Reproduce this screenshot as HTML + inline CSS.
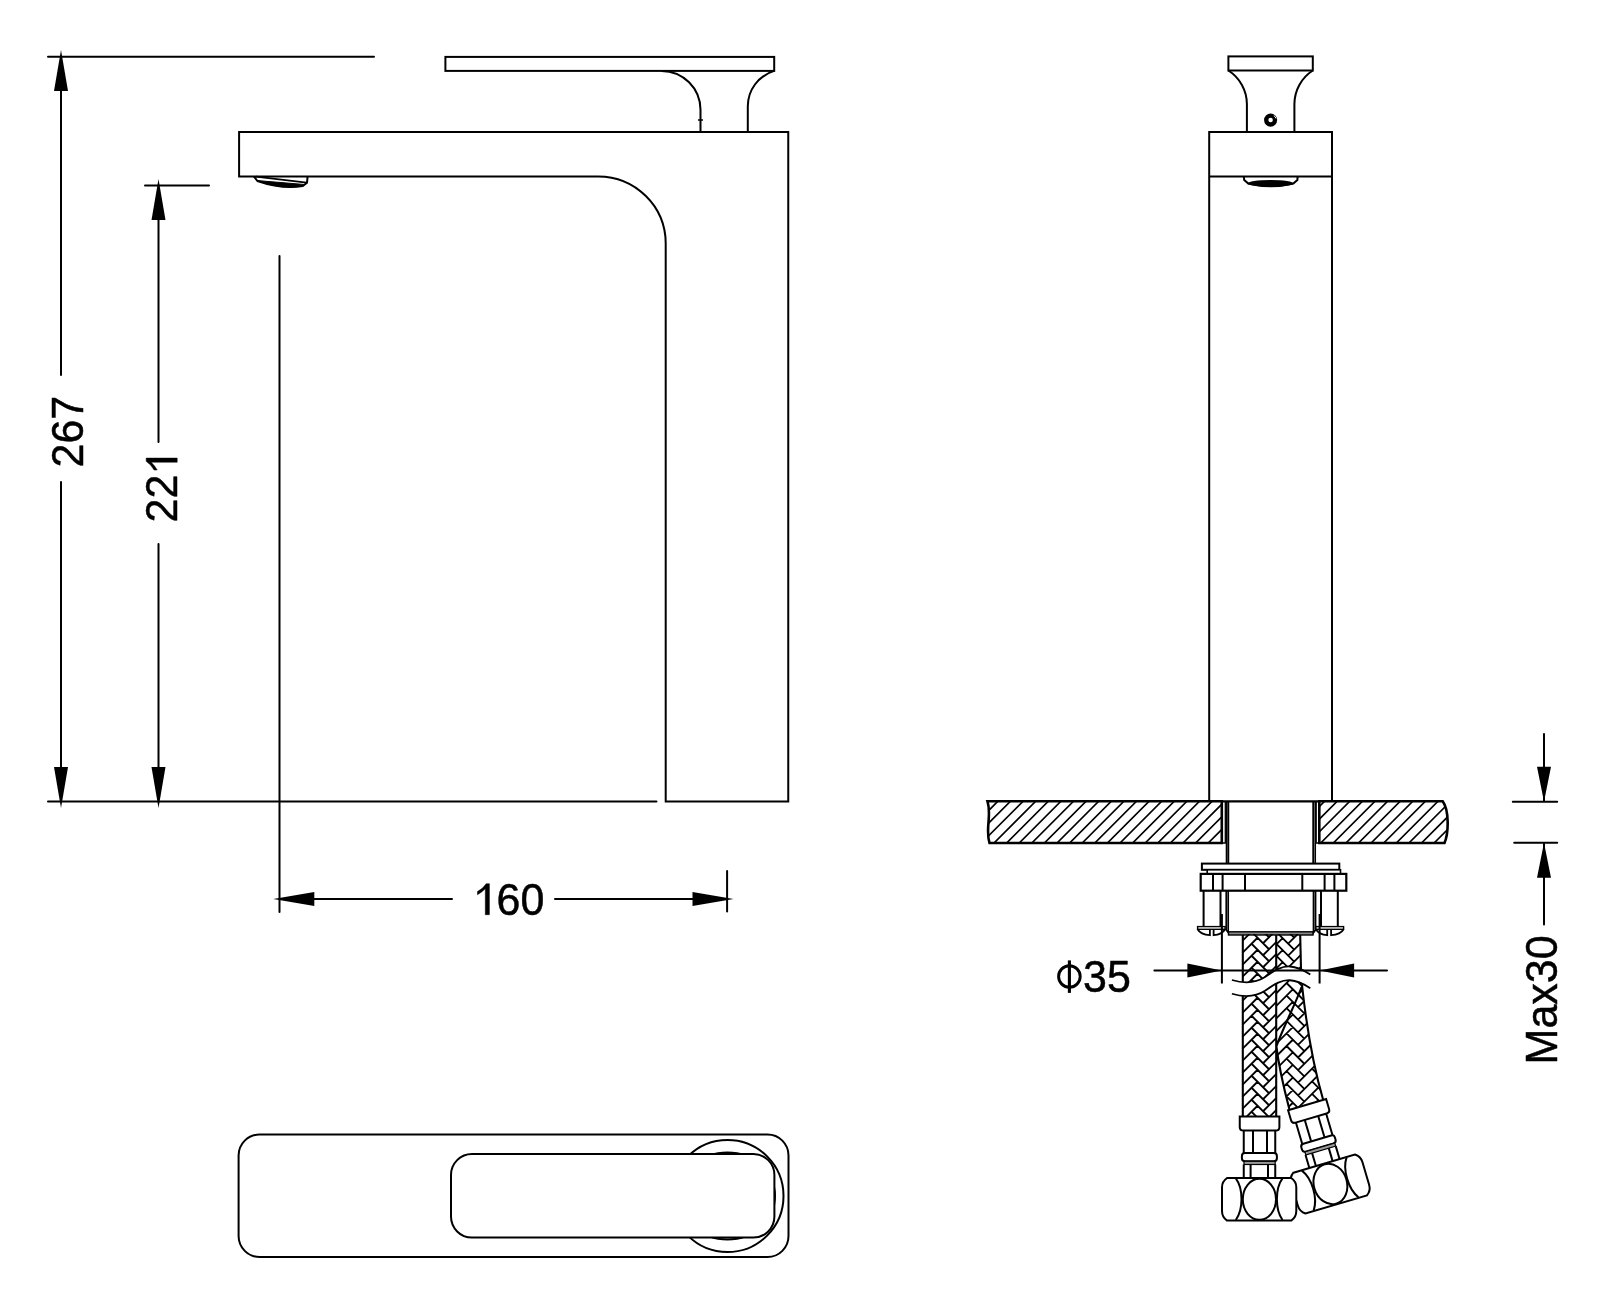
<!DOCTYPE html>
<html><head><meta charset="utf-8"><title>Faucet drawing</title><style>
html,body{margin:0;padding:0;background:#fff;overflow:hidden;}
svg{display:block;filter:grayscale(1);}
</style></head><body>
<svg width="1600" height="1299" viewBox="0 0 1600 1299">
<rect width="1600" height="1299" fill="#fff"/>
<path d="M48,56.8 H374 M145,185.6 H209 M48,801.5 H656.5 M61,80 V375 M61,482 V790 M158.5,210 V442 M158.5,544 V790 M279.5,256 V912 M727.1,871 V911.6 M300,898.9 H452 M555,898.9 H700" fill="none" stroke="#000" stroke-width="2" stroke-linecap="round"/>
<path d="M61.00,50.00 L68.00,91.00 L54.00,91.00 Z" fill="#000"/>
<path d="M61.00,808.00 L54.00,767.00 L68.00,767.00 Z" fill="#000"/>
<path d="M158.50,179.00 L165.50,220.00 L151.50,220.00 Z" fill="#000"/>
<path d="M158.50,808.00 L151.50,767.00 L165.50,767.00 Z" fill="#000"/>
<path d="M273.30,898.90 L314.30,891.90 L314.30,905.90 Z" fill="#000"/>
<path d="M733.50,898.90 L692.50,905.90 L692.50,891.90 Z" fill="#000"/>
<g fill="none" stroke="#000" stroke-width="2"><path d="M239.1,132 H788.25 V801.5 H665.7 V243.5 A67.6,67.1 0 0 0 598,176.4 H239.1 Z"/><rect x="445.4" y="56.9" width="328.8" height="14"/><path d="M661.6,70.9 A39,39 0 0 1 700.5,109.8 V132"/><path d="M774.2,70.9 A37,37 0 0 0 747.8,106.4 V132"/><path d="M698,120 H703" stroke-width="1.5"/><path d="M253.9,176.4 L257.4,181 Q282,189.5 302.7,186.1 L307,182.8 L307.6,176.4"/><path d="M256,176.6 L306.6,182.6" stroke-width="1.9"/><path d="M257.4,180.6 L303.5,184.4 L302.7,186.1 Q282,189.5 257.4,181 Z" fill="#000" stroke-width="1"/></g>
<text font-family="Liberation Sans, sans-serif" fill="#000" stroke="#000" stroke-width="0.5" stroke-linejoin="round" font-size="44" transform="translate(83,467.5) rotate(-90) scale(0.977,1)">267</text>
<text font-family="Liberation Sans, sans-serif" fill="#000" stroke="#000" stroke-width="0.5" stroke-linejoin="round" font-size="44" transform="translate(177.2,522.5) rotate(-90) scale(0.977,1)">22</text>
<path d="M0,-31 V0 H-4.1 V-26 Q-7.5,-22.5 -11.9,-20 V-23.1 Q-6.5,-26 -3.2,-31 Z" transform="translate(177.2,458.1) rotate(-90)" fill="#000" stroke="#000" stroke-width="0.5" stroke-linejoin="round"/>
<text font-family="Liberation Sans, sans-serif" fill="#000" stroke="#000" stroke-width="0.5" stroke-linejoin="round" font-size="44" transform="translate(496.6,914.6) scale(0.977,1)">60</text>
<path d="M0,-31 V0 H-4.1 V-26 Q-7.5,-22.5 -11.9,-20 V-23.1 Q-6.5,-26 -3.2,-31 Z" transform="translate(489.4,914.7)" fill="#000" stroke="#000" stroke-width="0.5" stroke-linejoin="round"/>
<g fill="none" stroke="#000" stroke-width="2"><rect x="238.6" y="1134.5" width="549.9" height="122.5" rx="21" ry="21"/><circle cx="727.5" cy="1196" r="56"/><ellipse cx="727.5" cy="1196" rx="47.5" ry="43.5"/><rect x="451" y="1154" width="323.4" height="83.6" rx="21" ry="21" fill="#fff"/></g>
<g fill="none" stroke="#000" stroke-width="2"><rect x="1228.4" y="56.4" width="84.4" height="14.1"/><path d="M1228.4,70.5 A40,40 0 0 1 1246.9,104 V132 M1312.8,70.5 A40,40 0 0 0 1294.4,104 V132"/><circle cx="1270.6" cy="120.1" r="4.4" stroke-width="4.3"/><path d="M1273.8,115.6 A5,5 0 0 1 1276,118.5" stroke="#fff" stroke-width="1"/><path d="M1209.2,801.3 V132 H1332 V801.3 M1209.2,176.6 H1332"/><path d="M1243.8,176.6 L1244.2,180 L1248.3,183.6 Q1271,189 1293.3,183.6 L1297.4,180 L1297.6,176.6"/><ellipse cx="1270.6" cy="183.4" rx="23.1" ry="3.3" fill="#000" stroke="none"/></g>
<defs><clipPath id="cl1"><path d="M989.5,843 C985,829 992,815 987.5,801.3 H1221.8 V843 Z"/></clipPath><clipPath id="cl2"><path d="M1319.3,801.3 H1442.7 C1449,810 1449,832 1444.5,843 H1319.3 Z"/></clipPath></defs>
<path clip-path="url(#cl1)" d="M918.40,843.00 L960.40,801.00 M931.00,843.00 L973.00,801.00 M943.60,843.00 L985.60,801.00 M956.20,843.00 L998.20,801.00 M968.80,843.00 L1010.80,801.00 M981.40,843.00 L1023.40,801.00 M994.00,843.00 L1036.00,801.00 M1006.60,843.00 L1048.60,801.00 M1019.20,843.00 L1061.20,801.00 M1031.80,843.00 L1073.80,801.00 M1044.40,843.00 L1086.40,801.00 M1057.00,843.00 L1099.00,801.00 M1069.60,843.00 L1111.60,801.00 M1082.20,843.00 L1124.20,801.00 M1094.80,843.00 L1136.80,801.00 M1107.40,843.00 L1149.40,801.00 M1120.00,843.00 L1162.00,801.00 M1132.60,843.00 L1174.60,801.00 M1145.20,843.00 L1187.20,801.00 M1157.80,843.00 L1199.80,801.00 M1170.40,843.00 L1212.40,801.00 M1183.00,843.00 L1225.00,801.00 M1195.60,843.00 L1237.60,801.00 M1208.20,843.00 L1250.20,801.00 M1220.80,843.00 L1262.80,801.00 M1233.40,843.00 L1275.40,801.00 M1246.00,843.00 L1288.00,801.00" stroke="#000" stroke-width="1.7" fill="none"/>
<path clip-path="url(#cl2)" d="M1257.70,843.00 L1299.70,801.00 M1270.30,843.00 L1312.30,801.00 M1282.90,843.00 L1324.90,801.00 M1295.50,843.00 L1337.50,801.00 M1308.10,843.00 L1350.10,801.00 M1320.70,843.00 L1362.70,801.00 M1333.30,843.00 L1375.30,801.00 M1345.90,843.00 L1387.90,801.00 M1358.50,843.00 L1400.50,801.00 M1371.10,843.00 L1413.10,801.00 M1383.70,843.00 L1425.70,801.00 M1396.30,843.00 L1438.30,801.00 M1408.90,843.00 L1450.90,801.00 M1421.50,843.00 L1463.50,801.00 M1434.10,843.00 L1476.10,801.00 M1446.70,843.00 L1488.70,801.00 M1459.30,843.00 L1501.30,801.00 M1471.90,843.00 L1513.90,801.00" stroke="#000" stroke-width="1.7" fill="none"/>
<path d="M989.5,843 C985,829 992,815 987.5,801.3 H1221.8 V843 Z M1319.3,801.3 H1442.7 C1449,810 1449,832 1444.5,843 H1319.3 Z" fill="none" stroke="#000" stroke-width="2.6"/>
<path d="M1221.8,801.3 H1319.3" stroke="#000" stroke-width="2.2"/>
<path d="M1221.8,843 H1225.3 V801.3 M1319.3,843 H1316.2 V801.3" stroke="#000" stroke-width="1.3" fill="none"/>
<path d="M1226.7,801.3 V863.7 M1313.3,801.3 V863.7 M1226.4,890.7 V930 L1230,934.5 M1315.4,890.7 V930 L1312,934.5" stroke="#000" stroke-width="2" fill="none"/>
<path d="M1228.5,801.3 V863.7 M1315.3,801.3 V863.7 M1228.3,890.7 V932.5 M1313.4,890.7 V932.5" stroke="#000" stroke-width="1.5" fill="none"/>
<rect x="1228.5" y="931.8" width="84.5" height="3.2" fill="#888" stroke="#000" stroke-width="1.4"/>
<rect x="1201.9" y="863.6" width="137.4" height="6.2" fill="#fff" stroke="#000" stroke-width="2"/>
<rect x="1207.2" y="869.8" width="133.3" height="4.1" fill="#fff" stroke="#000" stroke-width="1.6"/>
<rect x="1200.7" y="873.9" width="145.6" height="16.8" fill="#fff" stroke="#000" stroke-width="2.2"/>
<path d="M1213,873.9 V890.7 M1222.6,873.9 V890.7 M1245,873.9 V890.7 M1302.3,873.9 V890.7 M1324.6,873.9 V890.7 M1334.4,873.9 V890.7" stroke="#000" stroke-width="2"/>
<path d="M1203.6,890.7 V926.6 M1220.5,890.7 V926.6" stroke="#000" stroke-width="2" fill="none"/><rect x="1197.6" y="926.6" width="27.50" height="2.7" fill="#fff" stroke="#000" stroke-width="1.4"/><path d="M1197.6,929.2 Q1200.6,934.5 1209.9,935.2 V929.5 M1213.6,929.5 V935.2 Q1222.1,934.5 1225.1,929.2" stroke="#000" stroke-width="1.8" fill="none"/>
<path d="M1321,890.7 V926.6 M1337.8,890.7 V926.6" stroke="#000" stroke-width="2" fill="none"/><rect x="1315.9" y="926.6" width="27.70" height="2.7" fill="#fff" stroke="#000" stroke-width="1.4"/><path d="M1315.9,929.2 Q1318.9,934.5 1327.2,935.2 V929.5 M1331.1,929.5 V935.2 Q1340.6,934.5 1343.6,929.2" stroke="#000" stroke-width="1.8" fill="none"/>
<path d="M1221.9,914 V983.5 M1319.6,914 V983.5" stroke="#000" stroke-width="2"/>
<defs><clipPath id="h1"><path d="M1242.8,934 H1276.2 V1117 H1242.8 Z"/></clipPath><clipPath id="h2"><path d="M1276.2,934 H1300.2 L1301.2,980 H1276.2 Z"/></clipPath><clipPath id="h3"><path d="M1276.2,980 H1302 C1306,1022 1313,1065 1323.2,1100 L1289.3,1109 C1283,1085 1278,1060 1276.2,1045 Z"/></clipPath></defs>
<g clip-path="url(#h1)"><path transform="translate(1242.8,0)" d="M-2,894.50 L14.75,877.75 M8.75,883.75 L25.75,900.75 M20.25,895.25 L40,875.50 M34.25,881.25 L51.25,898.25 M-2,906.50 L14.75,889.75 M8.75,895.75 L25.75,912.75 M20.25,907.25 L40,887.50 M34.25,893.25 L51.25,910.25 M-2,918.50 L14.75,901.75 M8.75,907.75 L25.75,924.75 M20.25,919.25 L40,899.50 M34.25,905.25 L51.25,922.25 M-2,930.50 L14.75,913.75 M8.75,919.75 L25.75,936.75 M20.25,931.25 L40,911.50 M34.25,917.25 L51.25,934.25 M-2,942.50 L14.75,925.75 M8.75,931.75 L25.75,948.75 M20.25,943.25 L40,923.50 M34.25,929.25 L51.25,946.25 M-2,954.50 L14.75,937.75 M8.75,943.75 L25.75,960.75 M20.25,955.25 L40,935.50 M34.25,941.25 L51.25,958.25 M-2,966.50 L14.75,949.75 M8.75,955.75 L25.75,972.75 M20.25,967.25 L40,947.50 M34.25,953.25 L51.25,970.25 M-2,978.50 L14.75,961.75 M8.75,967.75 L25.75,984.75 M20.25,979.25 L40,959.50 M34.25,965.25 L51.25,982.25 M-2,990.50 L14.75,973.75 M8.75,979.75 L25.75,996.75 M20.25,991.25 L40,971.50 M34.25,977.25 L51.25,994.25 M-2,1002.50 L14.75,985.75 M8.75,991.75 L25.75,1008.75 M20.25,1003.25 L40,983.50 M34.25,989.25 L51.25,1006.25 M-2,1014.50 L14.75,997.75 M8.75,1003.75 L25.75,1020.75 M20.25,1015.25 L40,995.50 M34.25,1001.25 L51.25,1018.25 M-2,1026.50 L14.75,1009.75 M8.75,1015.75 L25.75,1032.75 M20.25,1027.25 L40,1007.50 M34.25,1013.25 L51.25,1030.25 M-2,1038.50 L14.75,1021.75 M8.75,1027.75 L25.75,1044.75 M20.25,1039.25 L40,1019.50 M34.25,1025.25 L51.25,1042.25 M-2,1050.50 L14.75,1033.75 M8.75,1039.75 L25.75,1056.75 M20.25,1051.25 L40,1031.50 M34.25,1037.25 L51.25,1054.25 M-2,1062.50 L14.75,1045.75 M8.75,1051.75 L25.75,1068.75 M20.25,1063.25 L40,1043.50 M34.25,1049.25 L51.25,1066.25 M-2,1074.50 L14.75,1057.75 M8.75,1063.75 L25.75,1080.75 M20.25,1075.25 L40,1055.50 M34.25,1061.25 L51.25,1078.25 M-2,1086.50 L14.75,1069.75 M8.75,1075.75 L25.75,1092.75 M20.25,1087.25 L40,1067.50 M34.25,1073.25 L51.25,1090.25 M-2,1098.50 L14.75,1081.75 M8.75,1087.75 L25.75,1104.75 M20.25,1099.25 L40,1079.50 M34.25,1085.25 L51.25,1102.25 M-2,1110.50 L14.75,1093.75 M8.75,1099.75 L25.75,1116.75 M20.25,1111.25 L40,1091.50 M34.25,1097.25 L51.25,1114.25 M-2,1122.50 L14.75,1105.75 M8.75,1111.75 L25.75,1128.75 M20.25,1123.25 L40,1103.50 M34.25,1109.25 L51.25,1126.25 M-2,1134.50 L14.75,1117.75 M8.75,1123.75 L25.75,1140.75 M20.25,1135.25 L40,1115.50 M34.25,1121.25 L51.25,1138.25 M-2,1146.50 L14.75,1129.75 M8.75,1135.75 L25.75,1152.75 M20.25,1147.25 L40,1127.50 M34.25,1133.25 L51.25,1150.25 M-2,1158.50 L14.75,1141.75 M8.75,1147.75 L25.75,1164.75 M20.25,1159.25 L40,1139.50 M34.25,1145.25 L51.25,1162.25 M-2,1170.50 L14.75,1153.75 M8.75,1159.75 L25.75,1176.75 M20.25,1171.25 L40,1151.50 M34.25,1157.25 L51.25,1174.25 M-2,1182.50 L14.75,1165.75 M8.75,1171.75 L25.75,1188.75 M20.25,1183.25 L40,1163.50 M34.25,1169.25 L51.25,1186.25" stroke="#000" stroke-width="1.8" fill="none"/></g>
<g clip-path="url(#h2)"><path transform="translate(1267.9,0)" d="M-2,894.95 L14.75,878.20 M8.75,884.20 L25.75,901.20 M20.25,895.70 L40,875.95 M34.25,881.70 L51.25,898.70 M-2,906.95 L14.75,890.20 M8.75,896.20 L25.75,913.20 M20.25,907.70 L40,887.95 M34.25,893.70 L51.25,910.70 M-2,918.95 L14.75,902.20 M8.75,908.20 L25.75,925.20 M20.25,919.70 L40,899.95 M34.25,905.70 L51.25,922.70 M-2,930.95 L14.75,914.20 M8.75,920.20 L25.75,937.20 M20.25,931.70 L40,911.95 M34.25,917.70 L51.25,934.70 M-2,942.95 L14.75,926.20 M8.75,932.20 L25.75,949.20 M20.25,943.70 L40,923.95 M34.25,929.70 L51.25,946.70 M-2,954.95 L14.75,938.20 M8.75,944.20 L25.75,961.20 M20.25,955.70 L40,935.95 M34.25,941.70 L51.25,958.70 M-2,966.95 L14.75,950.20 M8.75,956.20 L25.75,973.20 M20.25,967.70 L40,947.95 M34.25,953.70 L51.25,970.70 M-2,978.95 L14.75,962.20 M8.75,968.20 L25.75,985.20 M20.25,979.70 L40,959.95 M34.25,965.70 L51.25,982.70 M-2,990.95 L14.75,974.20 M8.75,980.20 L25.75,997.20 M20.25,991.70 L40,971.95 M34.25,977.70 L51.25,994.70 M-2,1002.95 L14.75,986.20 M8.75,992.20 L25.75,1009.20 M20.25,1003.70 L40,983.95 M34.25,989.70 L51.25,1006.70 M-2,1014.95 L14.75,998.20 M8.75,1004.20 L25.75,1021.20 M20.25,1015.70 L40,995.95 M34.25,1001.70 L51.25,1018.70 M-2,1026.95 L14.75,1010.20 M8.75,1016.20 L25.75,1033.20 M20.25,1027.70 L40,1007.95 M34.25,1013.70 L51.25,1030.70 M-2,1038.95 L14.75,1022.20 M8.75,1028.20 L25.75,1045.20 M20.25,1039.70 L40,1019.95 M34.25,1025.70 L51.25,1042.70" stroke="#000" stroke-width="1.8" fill="none"/></g>
<g clip-path="url(#h3)"><path transform="translate(1277.8,0)" d="M-2,930.75 L14.75,914.00 M8.75,920.00 L26.75,938.00 M20.25,931.50 L40,911.75 M34.25,917.50 L52.25,935.50 M-2,943.35 L14.75,926.60 M8.75,932.60 L26.75,950.60 M20.25,944.10 L40,924.35 M34.25,930.10 L52.25,948.10 M-2,955.95 L14.75,939.20 M8.75,945.20 L26.75,963.20 M20.25,956.70 L40,936.95 M34.25,942.70 L52.25,960.70 M-2,968.55 L14.75,951.80 M8.75,957.80 L26.75,975.80 M20.25,969.30 L40,949.55 M34.25,955.30 L52.25,973.30 M-2,981.15 L14.75,964.40 M8.75,970.40 L26.75,988.40 M20.25,981.90 L40,962.15 M34.25,967.90 L52.25,985.90 M-2,993.75 L14.75,977.00 M8.75,983.00 L26.75,1001.00 M20.25,994.50 L40,974.75 M34.25,980.50 L52.25,998.50 M-2,1006.35 L14.75,989.60 M8.75,995.60 L26.75,1013.60 M20.25,1007.10 L40,987.35 M34.25,993.10 L52.25,1011.10 M-2,1018.95 L14.75,1002.20 M8.75,1008.20 L26.75,1026.20 M20.25,1019.70 L40,999.95 M34.25,1005.70 L52.25,1023.70 M-2,1031.55 L14.75,1014.80 M8.75,1020.80 L26.75,1038.80 M20.25,1032.30 L40,1012.55 M34.25,1018.30 L52.25,1036.30 M-2,1044.15 L14.75,1027.40 M8.75,1033.40 L26.75,1051.40 M20.25,1044.90 L40,1025.15 M34.25,1030.90 L52.25,1048.90 M-2,1056.75 L14.75,1040.00 M8.75,1046.00 L26.75,1064.00 M20.25,1057.50 L40,1037.75 M34.25,1043.50 L52.25,1061.50 M-2,1069.35 L14.75,1052.60 M8.75,1058.60 L26.75,1076.60 M20.25,1070.10 L40,1050.35 M34.25,1056.10 L52.25,1074.10 M-2,1081.95 L14.75,1065.20 M8.75,1071.20 L26.75,1089.20 M20.25,1082.70 L40,1062.95 M34.25,1068.70 L52.25,1086.70 M-2,1094.55 L14.75,1077.80 M8.75,1083.80 L26.75,1101.80 M20.25,1095.30 L40,1075.55 M34.25,1081.30 L52.25,1099.30 M-2,1107.15 L14.75,1090.40 M8.75,1096.40 L26.75,1114.40 M20.25,1107.90 L40,1088.15 M34.25,1093.90 L52.25,1111.90 M-2,1119.75 L14.75,1103.00 M8.75,1109.00 L26.75,1127.00 M20.25,1120.50 L40,1100.75 M34.25,1106.50 L52.25,1124.50 M-2,1132.35 L14.75,1115.60 M8.75,1121.60 L26.75,1139.60 M20.25,1133.10 L40,1113.35 M34.25,1119.10 L52.25,1137.10 M-2,1144.95 L14.75,1128.20 M8.75,1134.20 L26.75,1152.20 M20.25,1145.70 L40,1125.95 M34.25,1131.70 L52.25,1149.70 M-2,1157.55 L14.75,1140.80 M8.75,1146.80 L26.75,1164.80 M20.25,1158.30 L40,1138.55 M34.25,1144.30 L52.25,1162.30 M-2,1170.15 L14.75,1153.40 M8.75,1159.40 L26.75,1177.40 M20.25,1170.90 L40,1151.15 M34.25,1156.90 L52.25,1174.90 M-2,1182.75 L14.75,1166.00 M8.75,1172.00 L26.75,1190.00 M20.25,1183.50 L40,1163.75 M34.25,1169.50 L52.25,1187.50" stroke="#000" stroke-width="1.8" fill="none"/></g>
<path d="M1242.8,935 V1117 M1276.2,935 V1117 M1300.2,935 L1301.2,978 M1302,985 C1306,1022 1313,1065 1323.2,1100 M1276.2,1045 C1278,1060 1283,1085 1289.3,1109 M1301.6,987 C1295,1005 1282,1030 1276.2,1047" stroke="#000" stroke-width="2.1" fill="none"/>
<path d="M1231.9,980 C1242,983 1255,983.5 1265,977 C1275,970 1282,966 1290,966.5 C1298,967 1305,971 1310.3,974.4 L1310.3,988.15 C1305,984.75 1298,980.75 1290,980.25 C1282,979.75 1275,983.75 1265,990.75 C1255,997.25 1242,996.75 1231.9,993.75 Z" fill="#fff" stroke="none"/>
<path d="M1231.9,980 C1242,983 1255,983.5 1265,977 C1275,970 1282,966 1290,966.5 C1298,967 1305,971 1310.3,974.4 M1231.9,993.75 C1242,996.75 1255,997.25 1265,990.75 C1275,983.75 1282,979.75 1290,980.25 C1298,980.75 1305,984.75 1310.3,988.15" stroke="#000" stroke-width="1.8" fill="none"/>
<path d="M1154.4,970.5 H1387" stroke="#000" stroke-width="2" stroke-linecap="round"/>
<path d="M1221.90,970.50 L1187.40,977.40 L1187.40,963.60 Z" fill="#000"/>
<path d="M1319.60,970.50 L1354.10,963.60 L1354.10,977.40 Z" fill="#000"/>
<g transform="translate(1336.75,1204.3) rotate(-16.5) translate(-1259.7,-1220.6)"><path d="M1239.75,1116.6 H1279.4 V1127 Q1279.4,1130.6 1275.8,1130.6 H1243.4 Q1239.75,1130.6 1239.75,1127 Z" fill="#fff" stroke="#000" stroke-width="2"/><path d="M1243.75,1130.6 V1153 M1275.25,1130.6 V1153 M1253,1130.6 V1153 M1267,1130.6 V1153" stroke="#000" stroke-width="2" fill="none"/><rect x="1241.9" y="1153" width="35" height="8.25" rx="3" fill="#fff" stroke="#000" stroke-width="2"/><rect x="1244" y="1161.3" width="31.2" height="3.2" fill="#999" stroke="#000" stroke-width="1.2"/><path d="M1243.75,1164.5 V1178 M1275.25,1164.5 V1178 M1250.6,1164.5 V1178 M1268,1164.5 V1178" stroke="#000" stroke-width="2" fill="none"/><path d="M1227.1,1178 H1291.2 C1294.2,1180 1296.3,1184 1296.3,1187.4 V1211 C1296.3,1215 1294.2,1218.6 1291.2,1220.6 H1227.1 C1224.1,1218.6 1222,1215 1222,1211 V1187.4 C1222,1184 1224.1,1180 1227.1,1178 Z" fill="#fff" stroke="#000" stroke-width="2"/><ellipse cx="1259.4" cy="1199.3" rx="16.6" ry="20.5" fill="none" stroke="#000" stroke-width="2"/><path d="M1235.8,1178.4 C1240,1184 1241.5,1192 1241.5,1199.2 C1241.5,1207 1240,1214 1235.8,1220 M1282.5,1178.4 C1278.3,1184 1276.9,1192 1276.9,1199.2 C1276.9,1207 1278.3,1214 1282.5,1220" stroke="#000" stroke-width="2" fill="none"/></g>
<g><path d="M1239.75,1116.6 H1279.4 V1127 Q1279.4,1130.6 1275.8,1130.6 H1243.4 Q1239.75,1130.6 1239.75,1127 Z" fill="#fff" stroke="#000" stroke-width="2"/><path d="M1243.75,1130.6 V1153 M1275.25,1130.6 V1153 M1253,1130.6 V1153 M1267,1130.6 V1153" stroke="#000" stroke-width="2" fill="none"/><rect x="1241.9" y="1153" width="35" height="8.25" rx="3" fill="#fff" stroke="#000" stroke-width="2"/><rect x="1244" y="1161.3" width="31.2" height="3.2" fill="#999" stroke="#000" stroke-width="1.2"/><path d="M1243.75,1164.5 V1178 M1275.25,1164.5 V1178 M1250.6,1164.5 V1178 M1268,1164.5 V1178" stroke="#000" stroke-width="2" fill="none"/><path d="M1227.1,1178 H1291.2 C1294.2,1180 1296.3,1184 1296.3,1187.4 V1211 C1296.3,1215 1294.2,1218.6 1291.2,1220.6 H1227.1 C1224.1,1218.6 1222,1215 1222,1211 V1187.4 C1222,1184 1224.1,1180 1227.1,1178 Z" fill="#fff" stroke="#000" stroke-width="2"/><ellipse cx="1259.4" cy="1199.3" rx="16.6" ry="20.5" fill="none" stroke="#000" stroke-width="2"/><path d="M1235.8,1178.4 C1240,1184 1241.5,1192 1241.5,1199.2 C1241.5,1207 1240,1214 1235.8,1220 M1282.5,1178.4 C1278.3,1184 1276.9,1192 1276.9,1199.2 C1276.9,1207 1278.3,1214 1282.5,1220" stroke="#000" stroke-width="2" fill="none"/></g>
<path d="M1544,734 V801.8 M1544,842.8 V924.5 M1512.8,801.8 H1557.2 M1514.2,842.8 H1557.2" stroke="#000" stroke-width="2" fill="none" stroke-linecap="round"/>
<path d="M1544.00,801.80 L1537.00,766.80 L1551.00,766.80 Z" fill="#000"/>
<path d="M1544.00,842.80 L1551.00,877.80 L1537.00,877.80 Z" fill="#000"/>
<text font-family="Liberation Sans, sans-serif" fill="#000" stroke="#000" stroke-width="0.5" stroke-linejoin="round" font-size="44" transform="translate(1557.2,1064.4) rotate(-90) scale(0.977,1)">Max30</text>
<text font-family="Liberation Sans, sans-serif" fill="#000" stroke="#000" stroke-width="0.5" stroke-linejoin="round" font-size="44" transform="translate(1083,992.3) scale(0.977,1)">35</text>
<circle cx="1069.4" cy="976.5" r="10.8" fill="none" stroke="#000" stroke-width="2.9"/><rect x="1067.85" y="960.4" width="3.1" height="32.5" fill="#000"/>
</svg></body></html>
